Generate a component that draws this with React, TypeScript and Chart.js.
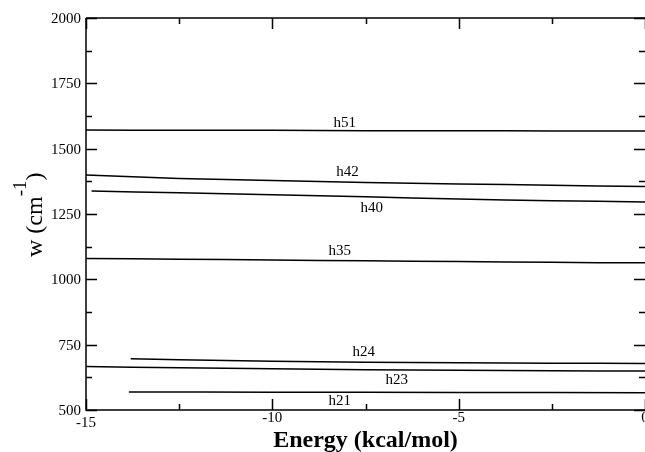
import React, { useEffect, useRef } from "react";
import { Chart, registerables } from "chart.js";

Chart.register(...registerables);

// ---- data ----
const xMin = -15;
const xMax = 0;
const yMin = 500;
const yMax = 2000;

const xMajorTicks = [-15, -10, -5, 0];
const xMinorTicks = [-12.5, -7.5, -2.5];
const yMajorTicks = [500, 750, 1000, 1250, 1500, 1750, 2000];
const yMinorTicks = [625, 875, 1125, 1375, 1625, 1875];

const h51X = [-15, -12.5, -10, -7.5, -5, -2.5, 0];
const h51Y = [1571, 1570, 1570, 1569, 1569, 1568, 1568];

const h42X = [-15, -12.5, -10, -7.5, -5, -2.5, 0];
const h42Y = [1399, 1386, 1378, 1371, 1365, 1360, 1355];

const h40X = [-14.85, -12.5, -10, -7.5, -5, -2.5, 0];
const h40Y = [1338, 1331, 1324, 1316, 1307, 1301, 1296];

const h35X = [-15, -12.5, -10, -7.5, -5, -2.5, 0];
const h35Y = [1080, 1077, 1074, 1071, 1068, 1065, 1063];

const h24X = [-13.8, -12.5, -10, -7.5, -5, -2.5, 0];
const h24Y = [696, 692, 687, 683, 681, 679, 678];

const h23X = [-15, -12.5, -10, -7.5, -5, -2.5, 0];
const h23Y = [666, 662, 658, 654, 652, 650, 649];

const h21X = [-13.85, -10, -5, 0];
const h21Y = [569, 568, 567, 566];

const labelNames = ["h51", "h42", "h40", "h35", "h24", "h23", "h21"];
const labelX = [-8.06, -7.98, -7.33, -8.19, -7.55, -6.66, -8.19];
const labelY = [1598, 1411, 1273, 1108, 722, 613, 534];

const xTitle = "Energy (kcal/mol)";
const yTitleMain = "w (cm";
const yTitleSup = "-1";
const yTitleEnd = ")";

const SERIF = "'Liberation Serif', 'Times New Roman', serif";

function toPoints(xs: number[], ys: number[]) {
  return xs.map((x, i) => ({ x, y: ys[i] }));
}

const seriesList = [
  [h51X, h51Y],
  [h42X, h42Y],
  [h40X, h40Y],
  [h35X, h35Y],
  [h24X, h24Y],
  [h23X, h23Y],
  [h21X, h21Y],
];

const framePlugin = {
  id: "gracePlot",
  afterDraw(chart: any) {
    const ctx = chart.ctx as CanvasRenderingContext2D;
    const xs = chart.scales.x;
    const ys = chart.scales.y;
    const a = chart.chartArea;
    ctx.save();
    ctx.strokeStyle = "#000";
    ctx.fillStyle = "#000";
    ctx.lineWidth = 1.5;
    // frame
    ctx.beginPath();
    ctx.moveTo(a.left, a.top);
    ctx.lineTo(a.left, a.bottom);
    ctx.lineTo(a.right, a.bottom);
    ctx.moveTo(a.left, a.top);
    ctx.lineTo(a.right, a.top);
    ctx.stroke();

    // ticks
    ctx.beginPath();
    const maj = 11;
    const min = 6;
    xMajorTicks.forEach((v) => {
      const px = Math.round(xs.getPixelForValue(v)) + 0.5;
      ctx.moveTo(px, a.bottom);
      ctx.lineTo(px, a.bottom - maj);
      ctx.moveTo(px, a.top);
      ctx.lineTo(px, a.top + maj);
    });
    xMinorTicks.forEach((v) => {
      const px = Math.round(xs.getPixelForValue(v)) + 0.5;
      ctx.moveTo(px, a.bottom);
      ctx.lineTo(px, a.bottom - min);
      ctx.moveTo(px, a.top);
      ctx.lineTo(px, a.top + min);
    });
    yMajorTicks.forEach((v) => {
      const py = Math.round(ys.getPixelForValue(v)) + 0.5;
      ctx.moveTo(a.left, py);
      ctx.lineTo(a.left + maj, py);
      ctx.moveTo(a.right, py);
      ctx.lineTo(a.right - maj, py);
    });
    yMinorTicks.forEach((v) => {
      const py = Math.round(ys.getPixelForValue(v)) + 0.5;
      ctx.moveTo(a.left, py);
      ctx.lineTo(a.left + min, py);
      ctx.moveTo(a.right, py);
      ctx.lineTo(a.right - min, py);
    });
    ctx.stroke();

    // tick labels
    ctx.font = `15px ${SERIF}`;
    ctx.textAlign = "right";
    ctx.textBaseline = "middle";
    yMajorTicks.forEach((v) => {
      ctx.fillText(String(v), a.left - 5, ys.getPixelForValue(v) + 1);
    });
    ctx.textAlign = "center";
    ctx.textBaseline = "alphabetic";
    xMajorTicks.forEach((v) => {
      const off = v === xMin ? 5 : 0;
      ctx.fillText(String(v), xs.getPixelForValue(v), a.bottom + 12 + off);
    });

    // curve labels
    ctx.font = `15px ${SERIF}`;
    ctx.textAlign = "center";
    ctx.textBaseline = "middle";
    labelNames.forEach((n, i) => {
      ctx.fillText(n, xs.getPixelForValue(labelX[i]), ys.getPixelForValue(labelY[i]));
    });

    // x title
    ctx.font = `bold 24px ${SERIF}`;
    ctx.textAlign = "center";
    ctx.textBaseline = "alphabetic";
    ctx.fillText(xTitle, (a.left + a.right) / 2, a.bottom + 37);

    // y title (rotated, with superscript)
    ctx.save();
    ctx.translate(42, 257);
    ctx.rotate(-Math.PI / 2);
    ctx.textAlign = "left";
    ctx.textBaseline = "alphabetic";
    ctx.font = `24px ${SERIF}`;
    ctx.fillText(yTitleMain, 0, 0);
    let w = ctx.measureText(yTitleMain).width;
    ctx.font = `19px ${SERIF}`;
    ctx.fillText(yTitleSup, w, -16);
    w += ctx.measureText(yTitleSup).width;
    ctx.font = `24px ${SERIF}`;
    ctx.fillText(yTitleEnd, w, 0);
    ctx.restore();

    ctx.restore();
  },
};

export default function App() {
  const ref = useRef<HTMLCanvasElement | null>(null);
  useEffect(() => {
    document.body.style.margin = "0";
    if (!ref.current) return;
    const chart = new Chart(ref.current, {
      type: "scatter",
      data: {
        datasets: seriesList.map(([xs, ys], i) => ({
          label: labelNames[i],
          data: toPoints(xs as number[], ys as number[]),
          showLine: true,
          borderColor: "#000",
          backgroundColor: "#000",
          borderWidth: 1.5,
          pointRadius: 0,
          pointHoverRadius: 0,
          tension: 0.4,
        })),
      },
      options: {
        animation: false,
        responsive: false,
        devicePixelRatio: 1,
        layout: { padding: { left: 86, top: 18, right: 0, bottom: 42 } },
        plugins: {
          legend: { display: false },
          tooltip: { enabled: false },
        },
        events: [],
        scales: {
          x: { type: "linear", min: xMin, max: xMax, display: false },
          y: { type: "linear", min: yMin, max: yMax, display: false },
        },
      },
      plugins: [framePlugin],
    });
    return () => chart.destroy();
  }, []);
  return (
    <div style={{ position: "absolute", left: 0, top: 0, width: 645, height: 452, background: "#fff" }}>
      <canvas ref={ref} width={645} height={452} style={{ width: 645, height: 452 }} />
    </div>
  );
}
